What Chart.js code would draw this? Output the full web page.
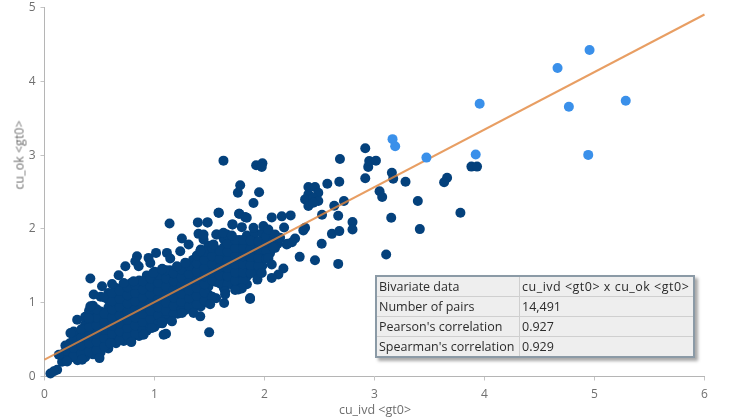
<!DOCTYPE html>
<html>
<head>
<meta charset="utf-8">
<title>cu_ivd x cu_ok</title>
<script src="https://cdn.jsdelivr.net/npm/chart.js@4"></script>
<style>
    html, body { margin: 0; padding: 0; background: #fff; }
    #wrap { position: relative; width: 731px; height: 418px; overflow: hidden; font-family: "Open Sans", sans-serif; }
    canvas { display: block; }
    .axis-title { position: absolute; color: #6e6e6e; font-size: 12.5px; white-space: nowrap; transform: translate(-50%, -50%); }
    #y-title { writing-mode: vertical-rl; transform: translate(-50%, -50%) rotate(180deg); }
    #stats { position: absolute; left: 375px; top: 275px; width: 320px; height: 80px; box-sizing: border-box;
        border: 2px solid #8b9aa6; background: #eeeeee; border-collapse: collapse; box-shadow: 3px 3px 3px #a9a9a9;
        font-size: 12.5px; color: #2b2b2b; table-layout: fixed; }
    #stats td { border: 1px solid #cfcfcf; padding: 0 0 0 2px; height: 19px; line-height: 17px; white-space: nowrap; overflow: hidden; }
    #stats td:first-child { width: 140px; }
    #stats tr:first-child td:last-child { letter-spacing: 0.5px; }
</style>
</head>
<body>
<div id="wrap">
    <canvas id="scatter" width="731" height="418"></canvas>
    <div class="axis-title" id="x-title" style="left:375px;top:409px"></div>
    <div class="axis-title" id="y-title" style="left:19px;top:155px"></div>
    <table id="stats"></table>
</div>
<script>
const xTitle = 'cu_ivd <gt0>';
const yTitle = 'cu_ok <gt0>';
const xTicks = [0, 1, 2, 3, 4, 5, 6];
const yTicks = [0, 1, 2, 3, 4, 5];
const statRows = [
    ['Bivariate data', 'cu_ivd <gt0> x cu_ok <gt0>'],
    ['Number of pairs', '14,491'],
    ["Pearson's correlation", '0.927'],
    ["Spearman's correlation", '0.929']
];
const fitLine = [[0, 0.23], [6, 4.905]];

// Light blue points
const highPoints = [
    [4.955,4.425],[4.664,4.18],[4.767,3.655],[5.284,3.736],[4.943,3.003],[3.956,3.696],
    [3.92,3.007],[3.164,3.216],[3.188,3.12],[3.472,2.966]
];

// Isolated dark points around the top of the cloud
const outerPoints = [
    [1.627,2.925],[1.924,2.862],[1.981,2.89],[1.975,2.84],[2.686,2.948],[2.916,3.093],[2.943,2.84],
    [2.952,2.921],[3.013,2.925],[2.916,2.686],[3.158,2.762],[3.17,2.681],[3.282,2.64],[3.046,2.51],
    [3.07,2.432],[3.394,2.378],[3.66,2.694],[3.633,2.632],[3.781,2.219],[3.881,2.844],[3.932,2.844],
    [3.152,2.151],[3.412,1.997],[3.106,1.653],[2.67,1.526],[2.459,1.576],[2.32,1.621],[2.52,1.798],
    [2.613,1.933],[2.68,1.97],[2.8,2.092],[2.8,1.993],[2.67,2.178],[2.523,2.192],[2.634,2.314],
    [2.722,2.378],[2.68,2.64],[2.571,2.613],[2.399,2.568],[2.459,2.568],[2.489,2.49],[2.399,2.469],
    [2.369,2.4],[2.444,2.423],[2.489,2.378],[2.399,2.31],[2.444,2.355],[1.779,2.591],[1.758,2.49],
    [1.951,2.496],[1.9,2.351],[1.585,2.219],[1.77,2.205],[1.824,2.16],[2.066,2.156],[2.157,2.17],
    [2.238,2.183],[2.178,2.02],[2.369,2.015],[2.353,1.98],[2.278,1.871],[2.208,1.798],[2.25,1.82],
    [1.482,2.088],[1.709,2.061],[1.794,2.024],[1.9,2.015],[1.99,2.038],[2.035,1.993],[2.096,1.925],
    [2.081,1.743],[2.035,1.607],[2.066,1.518],[2.172,1.463],[2.126,1.382],[2.066,1.336]
];

// Points along the edge of the dense cloud
const edgePoints = [
    [0.417,1.327],[0.523,1.223],[0.447,1.11],[0.417,0.951],[0.614,1.254],[0.674,1.372],[0.735,1.495],
    [0.841,1.63],[0.826,1.562],[0.856,1.495],[0.946,1.607],[0.962,1.539],[1.014,1.675],[1.113,1.675],
    [1.143,1.6],[1.234,1.698],[1.137,2.074],[1.394,2.088],[1.482,2.088],[1.582,2.219],[1.77,2.205],
    [1.709,2.061],[1.839,2.151],[1.249,1.871],[1.31,1.789],[1.4,1.933],[1.446,1.857],[1.567,1.925],
    [1.658,1.925],[0.81,1.29],[0.72,1.268],[0.99,1.404],[1.068,1.45],[1.204,1.495],[1.28,1.539],
    [1.416,1.698],[1.536,1.79],[0.5,0.249],[0.342,0.227],[0.206,0.204],[0.115,0.091],[0.054,0.041],
    [0.085,0.07],[0.789,0.466],[0.599,0.452],[0.901,0.566],[1.083,0.566],[1.105,0.58],[1.497,0.598],
    [1.416,0.815],[1.355,0.86],[1.159,0.747],[1.068,0.738],[0.977,0.656],[1.25,0.86],[1.506,0.978],
    [1.633,0.996],[1.869,1.05],[1.763,1.178],[1.642,1.155],[0.297,0.77],[0.236,0.588],[0.19,0.421],
    [0.13,0.295],[0.402,0.792],[1.869,1.064],[1.794,1.192],[1.733,1.173],[1.642,1.11],[1.936,1.313],
    [1.975,1.404],[2.096,1.743],[2.202,1.789],[1.561,1.925],[1.627,1.947],[1.703,1.911],[2.142,1.879],
    [1.446,1.925]
];

// Filling of the dense cloud, read column by column
const corePoints = [
    [0.16,0.2],[0.16,0.3],
    [0.23,0.25],[0.23,0.35],[0.23,0.45],
    [0.30,0.22],[0.30,0.33],[0.30,0.44],[0.30,0.55],
    [0.37,0.26],[0.37,0.37],[0.37,0.48],[0.37,0.59],[0.37,0.70],[0.37,0.81],
    [0.44,0.3],[0.44,0.41],[0.44,0.52],[0.44,0.63],[0.44,0.74],[0.44,0.85],[0.44,0.96],
    [0.51,0.33],[0.51,0.44],[0.51,0.55],[0.51,0.66],[0.51,0.77],[0.51,0.88],[0.51,1.08],
    [0.58,0.38],[0.58,0.49],[0.58,0.6],[0.58,0.71],[0.58,0.82],[0.58,0.93],[0.58,1.04],[0.58,1.13],
    [0.65,0.45],[0.65,0.56],[0.65,0.67],[0.65,0.78],[0.65,0.89],[0.65,1.0],[0.65,1.11],[0.65,1.2],
    [0.72,0.48],[0.72,0.59],[0.72,0.7],[0.72,0.81],[0.72,0.92],[0.72,1.03],[0.72,1.14],[0.72,1.25],
    [0.79,0.52],[0.79,0.63],[0.79,0.74],[0.79,0.85],[0.79,0.96],[0.79,1.07],[0.79,1.18],[0.79,1.27],
    [0.86,0.55],[0.86,0.66],[0.86,0.77],[0.86,0.88],[0.86,0.99],[0.86,1.1],[0.86,1.21],[0.86,1.3],
    [0.93,0.62],[0.93,0.73],[0.93,0.84],[0.93,0.95],[0.93,1.06],[0.93,1.17],[0.93,1.28],[0.93,1.37],
    [1.0,0.67],[1.0,0.78],[1.0,0.89],[1.0,1.0],[1.0,1.11],[1.0,1.22],[1.0,1.33],[1.0,1.42],
    [1.07,0.72],[1.07,0.83],[1.07,0.94],[1.07,1.05],[1.07,1.16],[1.07,1.27],[1.07,1.38],[1.07,1.46],
    [1.14,0.78],[1.14,0.89],[1.14,1.0],[1.14,1.11],[1.14,1.22],[1.14,1.33],[1.14,1.44],
    [1.21,0.85],[1.21,0.96],[1.21,1.07],[1.21,1.18],[1.21,1.29],[1.21,1.4],[1.21,1.48],
    [1.28,0.9],[1.28,1.01],[1.28,1.12],[1.28,1.23],[1.28,1.34],[1.28,1.45],[1.28,1.54],
    [1.35,0.92],[1.35,1.03],[1.35,1.14],[1.35,1.25],[1.35,1.36],[1.35,1.47],[1.35,1.58],
    [1.42,0.95],[1.42,1.06],[1.42,1.17],[1.42,1.28],[1.42,1.39],[1.42,1.5],[1.42,1.61],[1.42,1.72],
    [1.49,1.0],[1.49,1.11],[1.49,1.22],[1.49,1.33],[1.49,1.44],[1.49,1.55],[1.49,1.66],[1.49,1.77],
    [1.56,1.06],[1.56,1.28],[1.56,1.39],[1.56,1.5],[1.56,1.61],[1.56,1.72],
    [1.63,1.2],[1.63,1.31],[1.63,1.42],[1.63,1.53],[1.63,1.64],[1.63,1.75],[1.63,1.86],
    [1.70,1.25],[1.70,1.36],[1.70,1.47],[1.70,1.58],[1.70,1.69],[1.70,1.8],[1.70,1.88],
    [1.77,1.3],[1.77,1.41],[1.77,1.52],[1.77,1.63],[1.77,1.74],[1.77,1.85],
    [1.84,1.25],[1.84,1.36],[1.84,1.47],[1.84,1.58],[1.84,1.69],[1.84,1.8],[1.84,1.91],
    [1.91,1.42],[1.91,1.53],[1.91,1.64],[1.91,1.75],[1.91,1.86],[1.91,1.95],
    [1.98,1.5],[1.98,1.61],[1.98,1.72],[1.98,1.83],[1.98,1.94],
    [2.05,1.67],[2.05,1.78],[2.05,1.89],
    [2.12,1.8],[2.12,1.85]
];

// Second pass through the dense cloud, between the columns above
const fillPoints = [
    [0.195,0.25],[0.195,0.35],
    [0.265,0.28],[0.265,0.39],[0.265,0.5],[0.265,0.61],
    [0.335,0.31],[0.335,0.42],[0.335,0.53],[0.335,0.64],
    [0.405,0.34],[0.405,0.45],[0.405,0.56],[0.405,0.67],[0.405,0.78],[0.405,0.89],
    [0.475,0.36],[0.475,0.47],[0.475,0.58],[0.475,0.69],[0.475,0.8],[0.475,0.91],
    [0.545,0.41],[0.545,0.52],[0.545,0.63],[0.545,0.74],[0.545,0.85],[0.545,1.07],
    [0.615,0.47],[0.615,0.58],[0.615,0.69],[0.615,0.8],[0.615,0.91],[0.615,1.02],[0.615,1.13],
    [0.685,0.5],[0.685,0.61],[0.685,0.72],[0.685,0.83],[0.685,0.94],[0.685,1.05],[0.685,1.16],
    [0.755,0.55],[0.755,0.66],[0.755,0.77],[0.755,0.88],[0.755,0.99],[0.755,1.1],[0.755,1.21],
    [0.825,0.58],[0.825,0.69],[0.825,0.8],[0.825,0.91],[0.825,1.02],[0.825,1.13],[0.825,1.24],
    [0.895,0.63],[0.895,0.74],[0.895,0.85],[0.895,0.96],[0.895,1.07],[0.895,1.18],[0.895,1.29],
    [0.965,0.67],[0.965,0.78],[0.965,0.89],[0.965,1.0],[0.965,1.11],[0.965,1.22],[0.965,1.33],
    [1.035,0.72],[1.035,0.83],[1.035,0.94],[1.035,1.05],[1.035,1.16],[1.035,1.27],[1.035,1.38],
    [1.105,0.78],[1.105,0.89],[1.105,1.0],[1.105,1.11],[1.105,1.22],[1.105,1.33],[1.105,1.44],
    [1.175,0.85],[1.175,0.96],[1.175,1.07],[1.175,1.18],[1.175,1.29],[1.175,1.4],
    [1.245,0.9],[1.245,1.01],[1.245,1.12],[1.245,1.23],[1.245,1.34],[1.245,1.45],
    [1.315,0.95],[1.315,1.06],[1.315,1.17],[1.315,1.28],[1.315,1.39],[1.315,1.5],
    [1.385,0.98],[1.385,1.09],[1.385,1.2],[1.385,1.31],[1.385,1.42],[1.385,1.53],[1.385,1.64],
    [1.455,1.03],[1.455,1.14],[1.455,1.25],[1.455,1.36],[1.455,1.47],[1.455,1.58],[1.455,1.69],
    [1.525,1.08],[1.525,1.3],[1.525,1.41],[1.525,1.52],[1.525,1.63],[1.525,1.74],
    [1.595,1.26],[1.595,1.37],[1.595,1.48],[1.595,1.59],[1.595,1.7],
    [1.665,1.25],[1.665,1.36],[1.665,1.47],[1.665,1.58],[1.665,1.69],[1.665,1.8],
    [1.735,1.3],[1.735,1.41],[1.735,1.52],[1.735,1.63],[1.735,1.74],[1.735,1.85],
    [1.805,1.3],[1.805,1.41],[1.805,1.52],[1.805,1.63],[1.805,1.74],[1.805,1.85],
    [1.875,1.4],[1.875,1.51],[1.875,1.62],[1.875,1.73],[1.875,1.84],
    [1.945,1.5],[1.945,1.61],[1.945,1.72],[1.945,1.83],
    [2.015,1.6],[2.015,1.71],[2.015,1.82],[2.015,1.9],
    [2.085,1.75],[2.085,1.86]
];

const toXY = pts => pts.map(p => ({ x: p[0], y: p[1] }));

document.getElementById('x-title').textContent = xTitle;
document.getElementById('y-title').textContent = yTitle;
document.getElementById('stats').innerHTML = statRows.map(row =>
    '<tr>' + row.map(cell => '<td>' + cell.replace(/</g, '&lt;') + '</td>').join('') + '</tr>'
).join('');

const tickFont = { family: '"Open Sans", sans-serif', size: 12 };

new Chart(document.getElementById('scatter').getContext('2d'), {
    type: 'scatter',
    data: {
        datasets: [
            {
                label: 'high',
                data: toXY(highPoints),
                backgroundColor: '#3a90ea',
                borderWidth: 0,
                pointRadius: 5,
                order: 0,
                clip: false
            },
            {
                label: 'fit',
                data: toXY(fitLine),
                showLine: true,
                borderColor: 'rgba(226,134,60,0.8)',
                borderWidth: 2,
                pointRadius: 0,
                order: 1,
                clip: false
            },
            {
                label: 'pairs',
                data: toXY(corePoints.concat(fillPoints, edgePoints, outerPoints)),
                backgroundColor: '#04417c',
                borderWidth: 0,
                pointRadius: 5,
                order: 2,
                clip: false
            }
        ]
    },
    options: {
        responsive: false,
        animation: false,
        layout: { padding: { top: 7.5, right: 26.5 } },
        plugins: { legend: { display: false }, tooltip: { enabled: false } },
        scales: {
            x: {
                type: 'linear',
                min: 0,
                max: 6,
                afterBuildTicks: axis => { axis.ticks = xTicks.map(v => ({ value: v })); },
                afterFit: axis => {
                    axis.height = 41.5;
                    axis.paddingLeft = 0;
                    axis.paddingRight = 0;
                },
                grid: { drawOnChartArea: false, tickLength: 4, tickColor: '#c4c4c4' },
                border: { color: '#b5b5b5', width: 1 },
                ticks: { color: '#707070', font: tickFont, padding: 7, maxRotation: 0 }
            },
            y: {
                type: 'linear',
                min: 0,
                max: 5,
                afterBuildTicks: axis => { axis.ticks = yTicks.map(v => ({ value: v })); },
                afterFit: axis => {
                    axis.width = 44.5;
                    // labels may overhang the plot area, as they do in the original
                    axis.paddingTop = 0;
                    axis.paddingBottom = 0;
                },
                grid: { drawOnChartArea: false, tickLength: 4, tickColor: '#c4c4c4' },
                border: { color: '#b5b5b5', width: 1 },
                ticks: { color: '#707070', font: tickFont, padding: 5 }
            }
        }
    }
});
</script>
</body>
</html>
